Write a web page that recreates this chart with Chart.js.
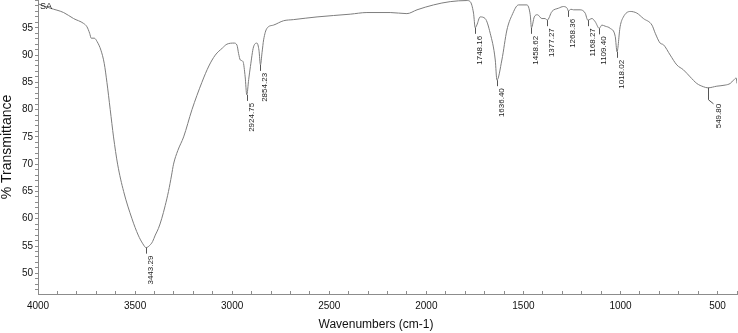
<!DOCTYPE html>
<html>
<head>
<meta charset="utf-8">
<script src="https://cdn.jsdelivr.net/npm/chart.js@4.4.1/dist/chart.umd.min.js"></script>
<style>
  html, body { margin: 0; padding: 0; background: #fff; }
  #wrap { width: 738px; height: 333px; position: relative; }
</style>
</head>
<body>
<div id="wrap"><canvas id="c" width="738" height="333"></canvas></div>
<script>
// ---- data ----
const wavenumbers = [
  4000, 3937, 3868, 3817, 3765, 3748, 3734, 3726, 3710, 3696, 3676, 3659, 3645, 3628, 3611, 3590,
  3559, 3516, 3484, 3460, 3443.29, 3425, 3410, 3396, 3380, 3363, 3345, 3328, 3312, 3302, 3280,
  3250, 3207, 3156, 3120, 3087, 3050, 3027, 2990, 2975, 2967, 2958, 2944, 2933, 2924.75, 2915,
  2906, 2890, 2872, 2862, 2854.23, 2846, 2838, 2821, 2787, 2735, 2685, 2563, 2392, 2306, 2186,
  2100, 2048, 1963, 1877, 1791, 1774, 1757, 1748.16, 1740, 1723, 1697, 1671, 1645, 1636.40, 1611,
  1585, 1559, 1525, 1482, 1465, 1458.62, 1444, 1428, 1405, 1388, 1377.27, 1353, 1319, 1294, 1275,
  1268.36, 1255, 1242, 1208, 1182, 1168.27, 1147, 1130, 1109.40, 1096, 1079, 1053, 1027, 1018.02,
  1002, 985, 950, 916, 882, 838, 821, 796, 779, 744, 710, 676, 641, 607, 573, 549.80, 504, 461,
  435, 418, 404, 400
];
const transmittance = [
  99.4, 98.6, 97.8, 96.7, 95.8, 95.2, 94.0, 93.1, 93.1, 92.5, 90.9, 88.5, 85.0, 80.0, 75.0, 70.0,
  65.0, 60.0, 57.0, 55.4, 54.7, 55.1, 55.8, 57.0, 58.2, 60.0, 62.4, 65.0, 68.0, 70.0, 72.5,
  75.0, 80.0, 85.0, 88.0, 90.0, 91.3, 92.0, 92.2, 91.8, 90.3, 89.1, 88.8, 86.0, 82.7, 85.5,
  87.9, 91.5, 92.2, 90.9, 88.2, 90.5, 92.8, 94.9, 95.5, 96.3, 96.5, 97.0, 97.5, 97.8, 97.8,
  97.6, 98.3, 99.2, 99.8, 100.0, 99.8, 97.7, 95.0, 95.5, 97.0, 96.7, 94.0, 89.1, 85.4, 89.1,
  94.6, 97.3, 99.2, 99.2, 97.4, 95.0, 97.0, 97.4, 96.7, 96.7, 96.4, 98.0, 98.6, 98.9, 98.6,
  98.1, 98.4, 98.3, 98.3, 97.7, 96.4, 96.7, 96.1, 94.9, 95.5, 95.3, 94.9, 93.4, 90.6,
  95.2, 97.0, 98.0, 97.7, 96.7, 95.5, 94.0, 92.2, 91.9, 90.0, 88.2, 87.3, 86.0, 84.8, 84.2, 84.0, 84.3, 84.5,
  84.8, 85.4, 85.8, 84.8
];
const peakLabels = ['3443.29', '2924.75', '2854.23', '1748.16', '1636.40', '1458.62',
                    '1377.27', '1268.36', '1168.27', '1109.40', '1018.02', '549.80'];
const xTickLabels = [4000, 3500, 3000, 2500, 2000, 1500, 1000, 500];
const yTickLabels = [50, 55, 60, 65, 70, 75, 80, 85, 90, 95];
const spectrumName = 'SA';
const xTitle = 'Wavenumbers (cm-1)';
const yTitle = '% Transmittance';

const FONT = "'Liberation Sans', Arial, Helvetica, sans-serif";

const points = wavenumbers.map((w, i) => ({ x: w, y: transmittance[i] }));

const annotatePlugin = {
  id: 'peakLabels',
  afterDatasetsDraw(chart, args, opts) {
    const { ctx, scales: { x, y }, chartArea } = chart;
    const data = chart.data.datasets[0].data;
    ctx.save();
    ctx.font = '8px ' + FONT;
    ctx.strokeStyle = '#555';
    ctx.fillStyle = '#222';
    ctx.lineWidth = 1;
    peakLabels.forEach(lbl => {
      const w = parseFloat(lbl);
      const pt = data.find(p => Math.abs(p.x - w) < 0.001);
      if (!pt) return;
      const px = Math.round(x.getPixelForValue(pt.x)) + 0.5;
      const py = y.getPixelForValue(pt.y);
      let tx, ty;
      ctx.beginPath();
      if (opts.leader.includes(lbl)) {
        ctx.moveTo(px, py);
        ctx.lineTo(px, py + 12);
        ctx.lineTo(px + 5, py + 16);
        tx = px + 10; ty = py + 16;
      } else {
        ctx.moveTo(px, py);
        ctx.lineTo(px, py + 6);
        tx = px + 4; ty = py + 8;
      }
      ctx.stroke();
      ctx.save();
      ctx.translate(tx, ty);
      ctx.rotate(-Math.PI / 2);
      ctx.textAlign = 'right';
      ctx.textBaseline = 'middle';
      ctx.fillText(lbl, 0, 0);
      ctx.restore();
    });
    // spectrum name
    ctx.font = '9px ' + FONT;
    ctx.textAlign = 'left';
    ctx.textBaseline = 'top';
    ctx.fillText(spectrumName, chartArea.left + 2, chartArea.top + 2);
    // x axis title
    ctx.font = '12px ' + FONT;
    ctx.textAlign = 'center';
    ctx.textBaseline = 'middle';
    ctx.fillStyle = '#111';
    ctx.fillText(xTitle, opts.xTitleX, opts.xTitleY);
    ctx.restore();
  }
};

new Chart(document.getElementById('c'), {
  type: 'line',
  data: {
    datasets: [{
      data: points,
      borderColor: '#7d7d7d',
      borderWidth: 1,
      pointRadius: 0,
      fill: false,
      tension: 0,
      cubicInterpolationMode: 'monotone'
    }]
  },
  options: {
    responsive: false,
    animation: false,
    devicePixelRatio: 1,
    layout: { padding: { left: 0, right: 1, top: 0, bottom: 0 } },
    plugins: {
      legend: { display: false },
      tooltip: { enabled: false },
      peakLabels: { leader: ['549.80'], xTitleX: 376, xTitleY: 325 }
    },
    scales: {
      x: {
        type: 'linear',
        reverse: true,
        min: 400,
        max: 4000,
        afterFit: s => { s.height = 39; s.paddingLeft = 0; s.paddingRight = 0; },
        border: { display: true, color: '#8c8c8c', width: 1 },
        grid: { display: true, drawOnChartArea: false, drawTicks: true, tickLength: -3, color: '#8c8c8c' },
        ticks: {
          stepSize: 100,
          autoSkip: false,
          includeBounds: false,
          maxRotation: 0,
          padding: 9,
          color: '#111',
          font: { family: FONT, size: 10 },
          callback: v => xTickLabels.includes(v) ? String(v) : ''
        }
      },
      y: {
        type: 'linear',
        min: 46.2,
        max: 100.1,
        afterFit: s => { s.width = 38; s.paddingTop = 0; s.paddingBottom = 0; },
        border: { display: true, color: '#8c8c8c', width: 1 },
        grid: { display: true, drawOnChartArea: false, drawTicks: true, tickLength: 3, color: '#8c8c8c' },
        ticks: {
          stepSize: 1,
          autoSkip: false,
          includeBounds: false,
          padding: 2,
          color: '#111',
          font: { family: FONT, size: 10 },
          callback: v => yTickLabels.includes(v) ? String(v) : ''
        },
        title: {
          display: true,
          text: yTitle,
          color: '#111',
          padding: 0,
          font: { family: FONT, size: 14, lineHeight: 1 }
        }
      }
    }
  },
  plugins: [annotatePlugin]
});
</script>
</body>
</html>
